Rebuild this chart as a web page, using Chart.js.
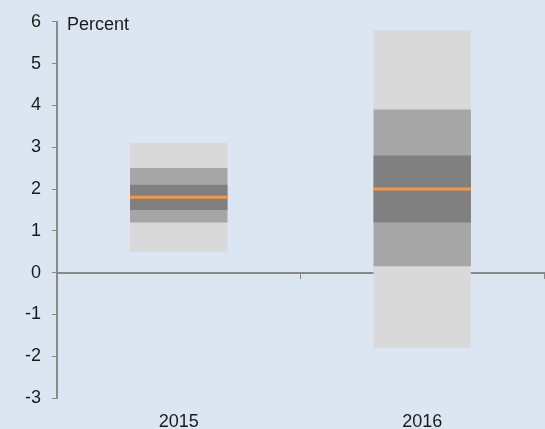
<!DOCTYPE html>
<html>
<head>
<meta charset="utf-8">
<script src="https://cdn.jsdelivr.net/npm/chart.js@4"></script>
<style>
  html, body { margin: 0; padding: 0; background: #dce6f2; }
  #wrap { width: 545px; height: 429px; }
</style>
</head>
<body>
<div id="wrap"><canvas id="myChart"></canvas></div>
<script>
const years = ['2015', '2016'];
const outerLow = [0.5, -1.8];
const outerHigh = [3.1, 5.8];
const midLow = [1.2, 0.15];
const midHigh = [2.5, 3.9];
const innerLow = [1.5, 1.2];
const innerHigh = [2.1, 2.8];
const median = [1.8, 2.0];
const yTicks = [-3, -2, -1, 0, 1, 2, 3, 4, 5, 6];

const pairs = (lo, hi) => lo.map((v, i) => [v, hi[i]]);

const axisGrey = '#898989';
const textColor = '#1a1a1a';
Chart.defaults.font.family = '"Liberation Sans", Arial, sans-serif';
Chart.defaults.font.size = 18;
Chart.defaults.color = textColor;

const medianLines = {
  id: 'medianLines',
  afterDatasetsDraw(chart) {
    const ctx = chart.ctx;
    const y = chart.scales.y;
    const meta = chart.getDatasetMeta(0);
    ctx.save();
    ctx.strokeStyle = '#f79646';
    ctx.lineWidth = 3;
    meta.data.forEach((bar, i) => {
      const py = y.getPixelForValue(median[i]);
      ctx.beginPath();
      ctx.moveTo(bar.x - bar.width / 2, py);
      ctx.lineTo(bar.x + bar.width / 2, py);
      ctx.stroke();
    });
    ctx.fillStyle = textColor;
    ctx.font = '18px "Liberation Sans", Arial, sans-serif';
    ctx.textBaseline = 'middle';
    ctx.fillText('Percent', chart.chartArea.left + 10, chart.chartArea.top + 3);
    ctx.restore();
  }
};

const data = {
  labels: years,
  datasets: [
    { label: 'inner', data: pairs(innerLow, innerHigh), backgroundColor: '#808080', grouped: false },
    { label: 'middle', data: pairs(midLow, midHigh), backgroundColor: '#a6a6a6', grouped: false },
    { label: 'outer', data: pairs(outerLow, outerHigh), backgroundColor: '#d9d9d9', grouped: false }
  ]
};

const config = {
  type: 'bar',
  data,
  options: {
    responsive: true,
    maintainAspectRatio: false,
    animation: false,
    events: [],
    categoryPercentage: 1,
    barPercentage: 0.4,
    layout: { padding: { top: 21, right: 1, left: 0, bottom: 0 } },
    plugins: { legend: { display: false }, tooltip: { enabled: false } },
    scales: {
      x: {
        position: 'bottom',
        grid: { display: false, drawTicks: false, tickLength: 0 },
        border: { display: false },
        ticks: { padding: 13 },
        afterFit: s => { s.height = 31; }
      },
      x2: {
        type: 'category',
        labels: years,
        position: { y: 0 },
        offset: true,
        grid: { offset: true, drawOnChartArea: false, drawTicks: true, tickLength: 5, color: axisGrey, lineWidth: 1 },
        border: { display: true, color: axisGrey, width: 2 },
        ticks: { display: false }
      },
      y: {
        min: -3,
        max: 6,
        afterBuildTicks: s => { s.ticks = yTicks.map(v => ({ value: v })); },
        grid: { drawOnChartArea: false, drawTicks: true, tickLength: 5, color: axisGrey },
        border: { display: true, color: axisGrey, width: 2 },
        ticks: { padding: 11 },
        afterFit: s => { s.width = 57; }
      }
    }
  },
  plugins: [medianLines]
};

var myChart = new Chart(document.getElementById('myChart'), config);
</script>
</body>
</html>
